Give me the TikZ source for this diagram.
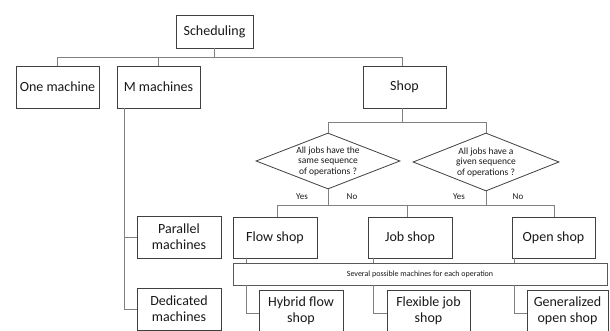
\documentclass[tikz,border=0pt]{standalone}
\usepackage{fontspec}
\setmainfont{Carlito}
\usetikzlibrary{shapes.geometric,shadows,calc}
\begin{document}
\begin{tikzpicture}[x=1pt,y=-1pt,
  box/.style={draw=black!75, line width=0.8pt, fill=white, minimum width=#1, inner sep=1pt, align=center, font=\fontsize{14}{16}\selectfont, text=black!90,
     drop shadow={shadow xshift=1.2pt, shadow yshift=-1.2pt, fill=black!35}},
  box/.default=83pt,
  dia/.style={draw=black!75, line width=0.8pt, fill=white, diamond, aspect=2.55, inner sep=0pt, minimum width=#1, align=center, font=\fontsize{9.5}{10.5}\selectfont, text=black!90},
  conn/.style={draw=black!50, line width=0.7pt},
  lab/.style={font=\fontsize{9}{10}\selectfont, text=black!90}
]
\useasboundingbox (0,0) rectangle (610,331);
\clip (0,0) rectangle (610,331);

\node[box=77pt, minimum height=33pt] (sched) at (214.5,31.5) {Scheduling};
\node[box, minimum height=42pt] (one) at (57.5,87) {One machine};
\node[box, minimum height=42pt] (mm) at (158.5,87) {M machines};
\node[box, minimum height=42pt] (shop) at (404.5,87) {Shop};

\node[dia=144pt, minimum height=56pt] (d1) at (328,161) {All jobs have the\\same sequence\\of operations ?};
\node[dia=146pt, minimum height=58pt] (d2) at (486,162) {All jobs have a\\given sequence\\of operations ?};

\node[box=84pt, minimum height=41pt] (flow) at (275,237.5) {Flow shop};
\node[box=84pt, minimum height=41pt] (job) at (410,237.5) {Job shop};
\node[box, minimum height=41pt] (open) at (553.5,237.5) {Open shop};

\node[box=84pt, minimum height=42pt] (par) at (179,237) {Parallel\\machines};
\node[box=84pt, minimum height=42pt] (ded) at (179,309) {Dedicated\\machines};

\node[draw=black!65, line width=0.7pt, fill=white, minimum width=374pt, minimum height=22pt, inner sep=0pt, font=\fontsize{8}{9}\selectfont, text=black!90] (band) at (420,274) {Several possible machines for each operation};

\node[box=84pt, minimum height=42pt] (hyb) at (301,311) {Hybrid flow\\shop};
\node[box=83pt, minimum height=42pt] (flex) at (428.5,311) {Flexible job\\shop};
\node[box=81pt, minimum height=42pt] (gen) at (567.5,311) {Generalized\\open shop};

% buses
\coordinate (bus1) at (0,57);
\coordinate (bus2) at (0,122);
\coordinate (bus3) at (0,205);

\draw[conn] (sched.south) -- (sched.south |- bus1);
\draw[conn] (one.north) -- (one.north |- bus1) -- ([xshift=-2pt]shop.north |- bus1) -- ([xshift=-2pt]shop.north);
\draw[conn] (mm.north) -- (mm.north |- bus1);

\draw[conn] ([xshift=-2pt]shop.south) -- ([xshift=-2pt]shop.south |- bus2);
\draw[conn] (d1.north) -- (d1.north |- bus2) -- (d2.north |- bus2) -- (d2.north);

\draw[conn] ([xshift=2pt]flow.north) -- ([xshift=2pt]flow.north |- bus3) -- ([xshift=0.5pt]open.north |- bus3) -- ([xshift=0.5pt]open.north);
\draw[conn] (d1.south) -- (d1.south |- bus3);
\draw[conn] (d2.south) -- (d2.south |- bus3);
\draw[conn] ([xshift=-3pt]job.north) -- ([xshift=-3pt]job.north |- bus3);

\node[lab] (y1) at (302,197) {Yes};
\node[lab] (n1) at (352,197) {No};
\node[lab] (y2) at (459,197) {Yes};
\node[lab] (n2) at (518,197) {No};

% M machines branch
\coordinate (mmx) at ([xshift=8pt]mm.south west);
\draw[conn] (mmx) |- (ded.west);
\draw[conn] (mmx |- par.west) -- (par.west);

% shops to band and below
\draw[conn] ([xshift=14pt]flow.south west) -- ([xshift=14pt]flow.south west |- band.north);
\draw[conn] ([xshift=14pt]flow.south west |- band.south) |- ([yshift=-2pt]hyb.west);
\draw[conn] ([xshift=6pt]job.south west) -- ([xshift=6pt]job.south west |- band.north);
\draw[conn] ([xshift=6pt]job.south west |- band.south) |- ([yshift=-2pt]flex.west);
\draw[conn] ([xshift=3pt]open.south west) -- ([xshift=3pt]open.south west |- band.north);
\draw[conn] ([xshift=3pt]open.south west |- band.south) |- ([yshift=-2pt]gen.west);
\end{tikzpicture}
\end{document}
